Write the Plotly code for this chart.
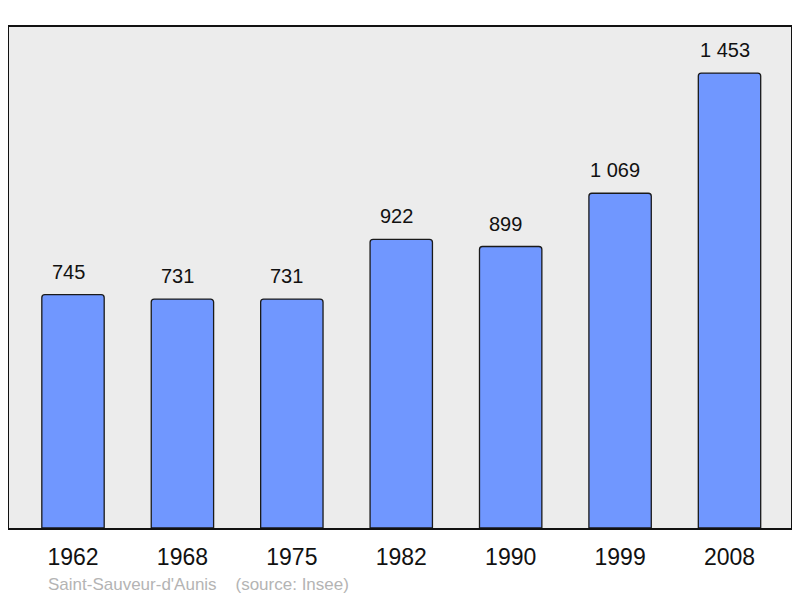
import plotly.graph_objects as go

years = ["1962", "1968", "1975", "1982", "1990", "1999", "2008"]
population = [745, 731, 731, 922, 899, 1069, 1453]
labels = ["745", "731", "731", "922", "899", "1 069", "1 453"]
source_text = "Saint-Sauveur-d'Aunis    (source: Insee)"

FONT = "Liberation Sans, Arial, sans-serif"

fig = go.Figure()
fig.add_trace(go.Bar(
    x=list(range(len(years))),
    y=population,
    width=0.57,
    marker=dict(color="#7097ff", line=dict(color="#1a1a1a", width=1.3), cornerradius=3),
    hoverinfo="skip",
))

for i, (v, t) in enumerate(zip(population, labels)):
    fig.add_annotation(x=i, y=v, text=t, showarrow=False, yanchor="bottom",
                       yshift=10, xshift=-5,
                       font=dict(family=FONT, size=20, color="#111111"))

fig.add_annotation(xref="paper", yref="paper", x=0.047, y=-0.1118, xanchor="left",
                   yanchor="middle", text=source_text, showarrow=False,
                   font=dict(family=FONT, size=17, color="#b4b4b4"))

fig.update_layout(
    width=800, height=598,
    margin=dict(l=1, r=17, t=19, b=78),
    paper_bgcolor="white",
    plot_bgcolor="#ececec",
    showlegend=False,
    xaxis=dict(
        range=[-0.585, 6.562],
        tickmode="array", tickvals=list(range(len(years))), ticktext=years,
        showgrid=False, zeroline=False,
        showline=True, mirror=True, linecolor="#111111", linewidth=2,
        ticks="outside", ticklen=7, tickcolor="rgba(0,0,0,0)",
        tickfont=dict(family=FONT, size=23, color="#111111"),
        fixedrange=True,
    ),
    yaxis=dict(
        range=[0, 1600],
        showgrid=False, zeroline=False, showticklabels=False,
        showline=True, mirror=True, linecolor="#111111", linewidth=2,
        fixedrange=True,
    ),
)

fig.write_html("out.html")
